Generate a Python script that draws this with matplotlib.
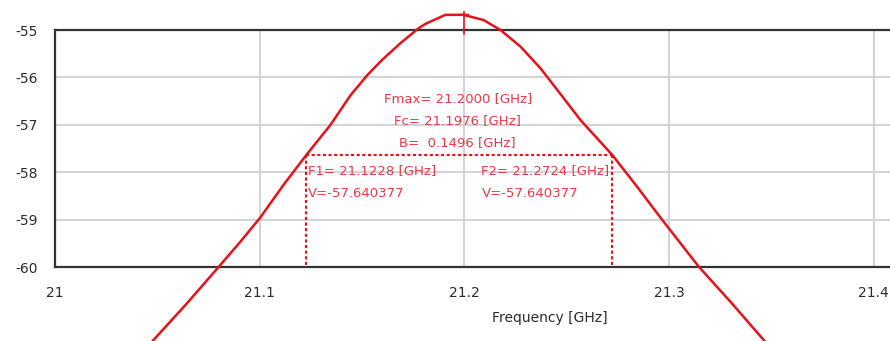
import numpy as np
import matplotlib
matplotlib.use("Agg")
import matplotlib.pyplot as plt

# values (frequency in GHz, response in dB)
freq = [21.040, 21.048, 21.0645, 21.080, 21.0906, 21.1003, 21.1117, 21.1228,
        21.1347, 21.1444, 21.1527, 21.1599, 21.1688, 21.1778, 21.1811, 21.1908,
        21.1996, 21.2095, 21.2177, 21.2275, 21.2373, 21.2470, 21.2568, 21.2724,
        21.2845, 21.2968, 21.3147, 21.3302, 21.3465, 21.355]
resp = [-61.95, -61.55, -60.77, -60.00, -59.47, -58.96, -58.27, -57.64,
        -57.00, -56.38, -55.95, -55.63, -55.28, -54.96, -54.87, -54.68,
        -54.68, -54.79, -55.00, -55.35, -55.81, -56.35, -56.90, -57.64,
        -58.31, -59.01, -60.00, -60.74, -61.55, -61.95]

f_max = 21.2000
f_c = 21.1976
bw = 0.1496
f1 = 21.1228
f2 = 21.2724
v_cut = -57.640377

xticks = [21, 21.1, 21.2, 21.3, 21.4]
xtick_labels = ["21", "21.1", "21.2", "21.3", "21.4"]
yticks = [-60, -59, -58, -57, -56, -55]

red = "#e8111a"
txt_red = "#e83a44"
dark = "#2b2b2b"

fig = plt.figure(figsize=(8.9, 3.41), dpi=100)
ax = fig.add_axes([54.8 / 890, 1 - 267 / 341, 1 - 54.8 / 890, 237 / 341])

ax.set_xlim(21, 21.408)
ax.set_ylim(-60, -55)
ax.set_xticks(xticks)
ax.set_xticklabels(xtick_labels)
ax.set_yticks(yticks)
ax.set_yticklabels([str(v) for v in yticks])
ax.tick_params(length=0, labelsize=10, colors=dark)
ax.tick_params(axis="y", pad=12)
ax.tick_params(axis="x", pad=14)

ax.grid(True, color="#d4d4d4", lw=1.5)
ax.set_axisbelow(True)
for s in ["left", "top", "bottom"]:
    ax.spines[s].set_color("#333333")
    ax.spines[s].set_linewidth(1.6)
ax.spines["right"].set_visible(False)

# response curve, runs past the frame like in the original
ax.plot(freq, resp, color=red, lw=1.8, clip_on=False, zorder=3)

# -3 dB markers
dots = (0, (1.5, 1.2))
ax.plot([f1, f2], [v_cut, v_cut], color=red, lw=1.5, ls=dots, zorder=3)
ax.plot([f1, f1], [v_cut, -60], color=red, lw=1.5, ls=dots, zorder=3)
ax.plot([f2, f2], [v_cut, -60], color=red, lw=1.5, ls=dots, zorder=3)

# peak marker
ax.plot([f_max, f_max], [-54.62, -55.08], color=red, lw=1.2, clip_on=False, zorder=4)
ax.plot([f_max - 0.002, f_max + 0.002], [-54.66, -54.66], color=red, lw=1.0,
        clip_on=False, zorder=4)

fs = 9.5
ax.text(21.1970, -56.44, f"Fmax= {f_max:.4f} [GHz]", color=txt_red, fontsize=fs,
        ha="center", va="center")
ax.text(21.1968, -56.90, f"Fc= {f_c:.4f} [GHz]", color=txt_red, fontsize=fs,
        ha="center", va="center")
ax.text(21.1968, -57.38, f"B=  {bw:.4f} [GHz]", color=txt_red, fontsize=fs,
        ha="center", va="center")
ax.text(f1 + 0.001, -57.96, f"F1= {f1:.4f} [GHz]", color=txt_red, fontsize=fs,
        ha="left", va="center")
ax.text(f1 + 0.001, -58.44, f"V={v_cut:.6f}", color=txt_red, fontsize=fs,
        ha="left", va="center")
ax.text(21.2080, -57.96, f"F2= {f2:.4f} [GHz]", color=txt_red, fontsize=fs,
        ha="left", va="center")
ax.text(21.2085, -58.44, f"V={v_cut:.6f}", color=txt_red, fontsize=fs,
        ha="left", va="center")

fig.text(550 / 890, 1 - 318 / 341, "Frequency [GHz]", color=dark, fontsize=10,
         ha="center", va="center")

fig.savefig("out.png", dpi=100)
